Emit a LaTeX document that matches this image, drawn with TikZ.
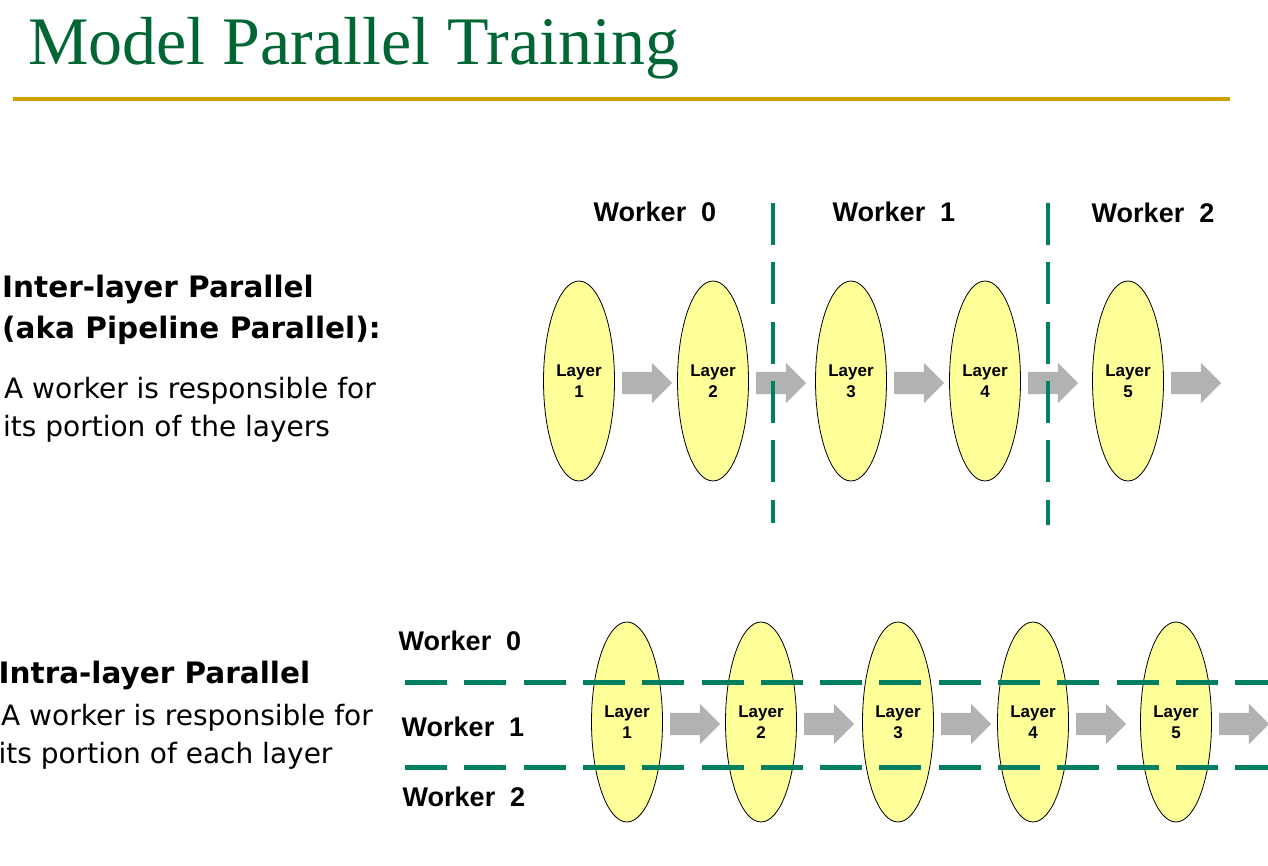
\documentclass[tikz,border=0pt]{standalone}
\usepackage{fontspec}
\setmainfont{Liberation Serif}
\newfontfamily\armfont{Liberation Sans}
\newfontfamily\tahfont{DejaVu Sans}
\usetikzlibrary{shapes.geometric,shapes.arrows,positioning}

\definecolor{titlegreen}{RGB}{0,102,51}
\definecolor{rulegold}{RGB}{209,160,0}
\definecolor{layeryellow}{RGB}{255,255,153}
\definecolor{arrowgray}{RGB}{178,178,178}
\definecolor{dashgreen}{RGB}{0,128,96}

\tikzset{
  layer/.style={ellipse, draw=black, line width=0.8pt, fill=layeryellow,
    minimum width=71pt, minimum height=200pt, inner sep=0pt, align=center,
    font=\armfont\bfseries\fontsize{17}{21}\selectfont},
  flowarrow/.style={single arrow, fill=arrowgray, draw=none, minimum height=50pt,
    inner xsep=0pt, inner ysep=11pt, single arrow head extend=9pt},
  worker/.style={anchor=base, inner sep=0pt,
    font=\armfont\bfseries\fontsize{27}{30}\selectfont},
  heading/.style={anchor=base west, inner sep=0pt,
    font=\tahfont\bfseries\fontsize{29.5}{34}\selectfont},
  body/.style={anchor=base west, inner sep=0pt,
    font=\tahfont\fontsize{28}{38}\selectfont},
  divider/.style={draw=dashgreen, line width=4.5pt, dash pattern=on 42pt off 17.3pt},
}

\begin{document}
\begin{tikzpicture}[x=1pt,y=-1pt]
    \useasboundingbox (0,0) rectangle (1268,866);

    % Title
    \node[anchor=base west, inner sep=0pt, text=titlegreen,
          font=\fontsize{68}{72}\selectfont] (title) at (28,65) {Model Parallel Training};
    \draw[rulegold, line width=3.5pt] (13,99) -- (1230,99);

    % Inter-layer text
    \node[heading] (interA) at (2,298) {Inter-layer Parallel};
    \node[heading] (interB) at (2,338) {(aka Pipeline Parallel):};
    \node[body] (interC) at (4,398) {A worker is responsible for};
    \node[body] (interD) at (3,436) {its portion of the layers};

    % Intra-layer text
    \node[heading] (intraA) at (-1.5,683) {Intra-layer Parallel};
    \node[body] (intraB) at (1,725) {A worker is responsible for};
    \node[body] (intraC) at (-1.5,763) {its portion of each layer};

    % Top row of layers
    \foreach \i/\x in {1/579,2/713,3/851,4/985,5/1128} {
        \node[layer] (T\i) at (\x,381) {Layer\\\i};
        \node[flowarrow, right=7pt of T\i, yshift=-2pt] (TA\i) {};
    }

    % Bottom row of layers
    \foreach \i/\x in {1/627,2/761,3/898,4/1033,5/1176} {
        \node[layer] (B\i) at (\x,722) {Layer\\\i};
        \node[flowarrow, right=7pt of B\i, yshift=-2pt] (BA\i) {};
    }

    % Worker labels
    \node[worker] (tw0) at (655,222) {Worker~~0};
    \node[worker] (tw1) at (894,222) {Worker~~1};
    \node[worker] (tw2) at (1153,223) {Worker~~2};
    \node[worker] (bw0) at (460,650) {Worker~~0};
    \node[worker] (bw1) at (463,736) {Worker~~1};
    \node[worker] (bw2) at (464,806) {Worker~~2};

    % Worker boundaries
    \draw[divider] (773,203) -- (773,523);
    \draw[divider] (1048,203) -- (1048,525);
    \draw[divider] (405,682.5) -- (1275,682.5);
    \draw[divider] (405,767.5) -- (1275,767.5);
\end{tikzpicture}
\end{document}
